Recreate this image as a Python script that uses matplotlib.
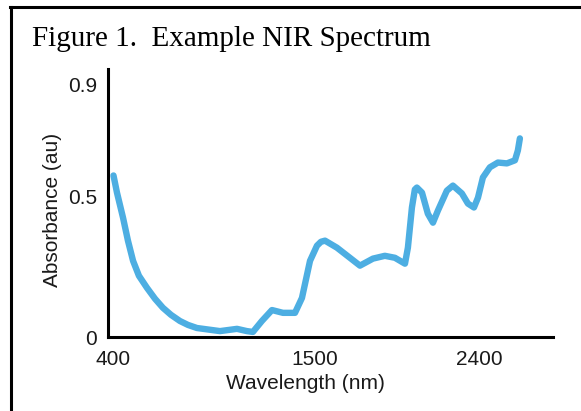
import matplotlib
matplotlib.use("Agg")
import matplotlib.pyplot as plt
from matplotlib.lines import Line2D

# spectrum
wavelength = [400, 419, 452, 479, 507, 539, 583, 627, 670, 714, 763, 807, 856, 982,
              1075, 1129, 1162, 1211, 1266, 1326, 1392, 1430, 1474, 1512, 1534, 1556,
              1621, 1692, 1747, 1818, 1883, 1938, 1993, 2009, 2031, 2047, 2058, 2086,
              2118, 2146, 2173, 2222, 2255, 2304, 2337, 2370, 2392, 2419, 2457, 2501,
              2550, 2594, 2610, 2621]
absorbance = [0.575, 0.514, 0.425, 0.343, 0.271, 0.218, 0.175, 0.136, 0.104, 0.079,
              0.057, 0.043, 0.032, 0.021, 0.029, 0.021, 0.018, 0.057, 0.096, 0.086,
              0.086, 0.139, 0.271, 0.325, 0.339, 0.343, 0.318, 0.282, 0.254, 0.279,
              0.289, 0.282, 0.261, 0.318, 0.461, 0.525, 0.532, 0.514, 0.439, 0.407,
              0.450, 0.521, 0.539, 0.511, 0.475, 0.461, 0.496, 0.568, 0.604, 0.621,
              0.618, 0.629, 0.664, 0.707]

x_ticks = [400, 1500, 2400]
y_ticks = [0, 0.5, 0.9]
y_tick_labels = ["0", "0.5", "0.9"]

W, H = 581, 411
fig = plt.figure(figsize=(W / 100, H / 100), dpi=100)

# frame round the figure (left and top only, as in the scan)
fig.add_artist(Line2D([10.5 / W, 10.5 / W], [0, 1 - 7.5 / H], color="black", lw=2.2))
fig.add_artist(Line2D([10 / W, 1], [1 - 7.5 / H, 1 - 7.5 / H], color="black", lw=2.2))

fig.text(32 / W, 1 - 46 / H, "Figure 1.  Example NIR Spectrum",
         family="Liberation Serif", fontsize=21, va="baseline", ha="left")

ax = fig.add_axes([108 / W, 1 - 337 / H, (553 - 108) / W, (337 - 69) / H])
ax.plot(wavelength, absorbance, color="#4DAEE2", lw=4.6,
        solid_capstyle="round", solid_joinstyle="round")

ax.set_xlim(370, 2802)
ax.set_ylim(0, 0.954)
ax.set_xticks(x_ticks)
ax.set_yticks(y_ticks)
ax.set_yticklabels(y_tick_labels)
ax.tick_params(length=0, labelsize=15, colors="#1a1a1a")
ax.tick_params(axis="x", pad=9)
ax.tick_params(axis="y", pad=8)
for lab in ax.get_xticklabels() + ax.get_yticklabels():
    lab.set_family("Liberation Sans")

for side in ["top", "right"]:
    ax.spines[side].set_visible(False)
for side in ["left", "bottom"]:
    ax.spines[side].set_linewidth(2.2)
    ax.spines[side].set_color("black")

fig.text(305 / W, 1 - 383 / H, "Wavelength (nm)", family="Liberation Sans",
         fontsize=15, ha="center", va="center", color="#1a1a1a")
fig.text(53 / W, 1 - 210 / H, "Absorbance (au)", family="Liberation Sans",
         fontsize=15, ha="center", va="center", rotation=90, color="#1a1a1a")

fig.savefig("out.png", dpi=100)
